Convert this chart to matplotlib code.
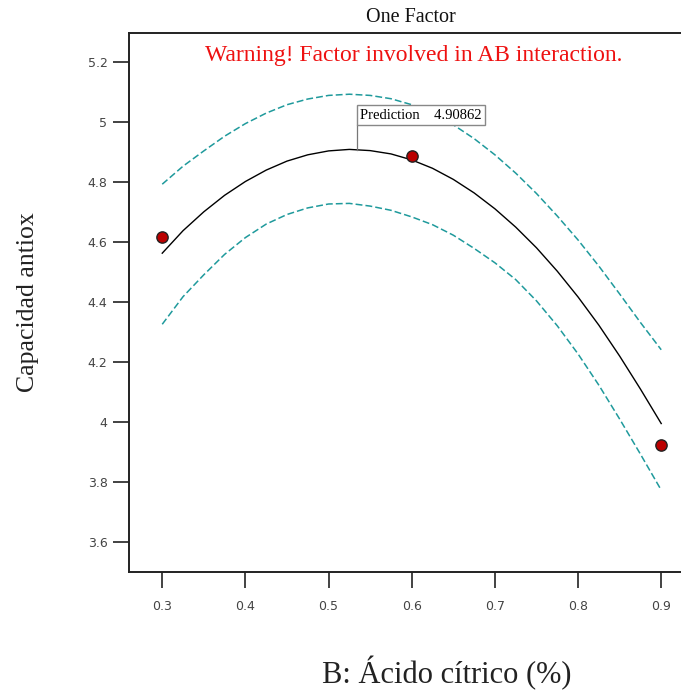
import matplotlib
matplotlib.use("Agg")
import matplotlib.pyplot as plt

# Data
x_design = [0.3, 0.6, 0.9]
y_design = [4.617, 4.887, 3.923]

x_curve = [0.300, 0.325, 0.350, 0.375, 0.400, 0.425, 0.450, 0.475, 0.500, 0.525,
           0.550, 0.575, 0.600, 0.625, 0.650, 0.675, 0.700, 0.725, 0.750, 0.775,
           0.800, 0.825, 0.850, 0.875, 0.900]
y_pred = [4.563, 4.638, 4.701, 4.756, 4.802, 4.840, 4.870, 4.891, 4.904, 4.909,
          4.905, 4.894, 4.874, 4.846, 4.809, 4.764, 4.711, 4.650, 4.581, 4.503,
          4.417, 4.323, 4.220, 4.110, 3.995]
y_upper = [4.793, 4.853, 4.904, 4.953, 4.995, 5.030, 5.058, 5.077, 5.089, 5.093,
           5.089, 5.078, 5.058, 5.029, 4.991, 4.945, 4.891, 4.830, 4.762, 4.687,
           4.607, 4.520, 4.427, 4.332, 4.241]
y_lower = [4.326, 4.418, 4.491, 4.559, 4.615, 4.660, 4.692, 4.714, 4.727, 4.729,
           4.720, 4.706, 4.684, 4.658, 4.623, 4.579, 4.531, 4.475, 4.404, 4.321,
           4.227, 4.123, 4.010, 3.893, 3.773]

x_ticks = [0.3, 0.4, 0.5, 0.6, 0.7, 0.8, 0.9]
x_ticklabels = ["0.3", "0.4", "0.5", "0.6", "0.7", "0.8", "0.9"]
y_ticks = [3.6, 3.8, 4.0, 4.2, 4.4, 4.6, 4.8, 5.0, 5.2]
y_ticklabels = ["3.6", "3.8", "4", "4.2", "4.4", "4.6", "4.8", "5", "5.2"]

pred_x = 0.534
pred_value = 4.90862

serif = "Liberation Serif"
teal = "#1f9a9c"

fig = plt.figure(figsize=(6.81, 6.91), dpi=100)
ax = fig.add_axes([0.1894, 0.1722, 0.8304, 0.7800])

ax.plot(x_curve, y_upper, color=teal, lw=1.1, linestyle=(0, (4.5, 2.0)))
ax.plot(x_curve, y_lower, color=teal, lw=1.1, linestyle=(0, (4.5, 2.0)))
ax.plot(x_curve, y_pred, color="black", lw=1.0)
ax.scatter(x_design, y_design, s=66, color="#bb0000", edgecolors="#222222",
           linewidths=1.0, zorder=5)

ax.set_xlim(0.26, 0.94)
ax.set_ylim(3.5, 5.297)
ax.set_xticks(x_ticks)
ax.set_xticklabels(x_ticklabels)
ax.set_yticks(y_ticks)
ax.set_yticklabels(y_ticklabels)
ax.tick_params(direction="out", length=11.5, width=1.2, colors="#222222",
               labelsize=9, labelcolor="#444444")
ax.tick_params(axis="y", pad=4)
ax.tick_params(axis="x", pad=9)

for side in ["left", "bottom", "top"]:
    ax.spines[side].set_linewidth(1.4)
    ax.spines[side].set_color("#222222")
ax.spines["right"].set_visible(False)

# Prediction flag
box_bottom = 4.99
ax.plot([pred_x, pred_x], [pred_value, box_bottom], color="#777777", lw=0.9)
ax.annotate("Prediction    4.90862", xy=(pred_x, box_bottom), xytext=(2.5, 2.5),
            textcoords="offset points", family=serif, fontsize=10.5,
            ha="left", va="bottom",
            bbox=dict(boxstyle="square,pad=0.25", fc="white", ec="#888888", lw=1.0))

fig.text(0.603, 0.974, "One Factor", family=serif, fontsize=14.5,
         ha="center", va="center", color="#111111")
fig.text(0.608, 0.920, "Warning! Factor involved in AB interaction.", family=serif,
         fontsize=17, ha="center", va="center", color="#ee1111")

fig.text(0.041, 0.563, "Capacidad antiox", family=serif, fontsize=18.5,
         rotation=90, ha="center", va="center", color="#222222")
fig.text(0.656, 0.026, "B: Ácido cítrico (%)", family=serif, fontsize=22,
         ha="center", va="center", color="#222222")

fig.savefig("out.png", dpi=100)
